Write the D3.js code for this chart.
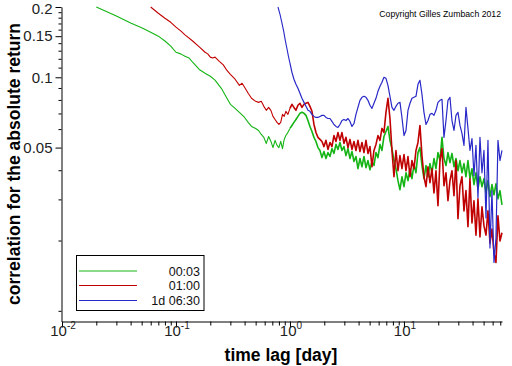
<!DOCTYPE html>
<html><head><meta charset="utf-8">
<script src="https://cdn.jsdelivr.net/npm/d3@7"></script>
<style>body{margin:0;background:#fff}svg{display:block}</style>
</head><body><svg id="c" width="512" height="366"></svg>
<script>
// ---------- data ----------
const seriesNames = ["00:03", "01:00", "1d 06:30"];
const seriesColors = ["#14b414", "#c00000", "#2828c8"];

const greenLagsHead = [0.02,0.03,0.04,0.05,0.06,0.07,0.08,0.09,0.1,0.11,0.12,0.13,0.14,0.16,0.18,0.2,0.22,0.25,0.28,0.3,0.33,0.36,0.4,0.43,0.46,0.5,0.53,0.56,0.59,0.62,0.65,0.68,0.71,0.74,0.77,0.8,0.83,0.86,0.89,0.92,0.96];
const greenValsHead = [0.200,0.183,0.171,0.163,0.156,0.150,0.143,0.136,0.128,0.126,0.123,0.121,0.116,0.108,0.104,0.101,0.0973,0.0897,0.0813,0.0766,0.0736,0.0708,0.0673,0.0641,0.0616,0.0604,0.0592,0.0569,0.0553,0.0521,0.0558,0.0532,0.0500,0.0537,0.0511,0.0500,0.0532,0.0495,0.0542,0.0563,0.0581];

const redLagsHead = [0.06,0.07,0.08,0.09,0.1,0.11,0.12,0.14,0.16,0.18,0.19,0.2,0.21,0.22,0.24,0.26,0.28,0.3,0.33,0.36,0.38,0.4,0.43,0.46,0.5,0.53,0.56,0.59,0.62,0.65,0.68,0.71,0.74,0.77,0.8,0.83,0.86,0.89,0.92,0.96];
const redValsHead = [0.200,0.188,0.179,0.172,0.164,0.158,0.152,0.143,0.135,0.128,0.126,0.122,0.121,0.122,0.117,0.113,0.107,0.103,0.0981,0.0924,0.0943,0.0906,0.0854,0.0813,0.0789,0.0781,0.0789,0.0751,0.0722,0.0743,0.0722,0.0680,0.0660,0.0641,0.0628,0.0641,0.0694,0.0680,0.0715,0.0694];

const blueLagsHead = [0.785,0.82,0.85,0.88,0.91,0.94,0.97];
const blueValsHead = [0.200,0.185,0.171,0.158,0.144,0.133,0.123];

// common lag grid (days) for lags >= 1 day
const lagsTail = [1,1.041,1.084,1.129,1.175,1.224,1.274,1.327,1.382,1.439,
1.498,1.560,1.624,1.691,1.761,1.833,1.909,1.988,2.070,2.155,
2.244,2.336,2.432,2.533,2.637,2.746,2.859,2.977,3.100,3.228,
3.361,3.499,3.644,3.794,3.950,4.113,4.283,4.460,4.644,4.835,
5.034,5.242,5.458,5.683,5.917,6.161,6.415,6.680,6.956,7.242,
7.54,7.851,8.175,8.512,8.863,9.228,9.609,10.01,10.42,10.85,
11.30,11.76,12.25,12.75,13.28,13.82,14.39,14.99,15.61,16.25,
16.92,17.62,18.34,19.10,19.89,20.71,21.56,22.45,23.38,24.34,
25.34,26.39,27.48,28.61,29.79,31.02,32.30,33.63,35.01,36.46,
37.96,39.53,41.16,42.85,44.62,46.46,48.38,50.37,52.45,54.61,
56.86,59.20,61.65,64.19,66.83,69.59,72.46];

const greenValsTail = [0.0604,0.0622,0.0641,0.0660,0.0680,0.0701,0.0708,0.0701,0.0687,0.0653,
0.0616,0.0586,0.0553,0.0531,0.0500,0.0486,0.0453,0.0481,0.0449,0.0476,
0.0458,0.0495,0.0472,0.0516,0.0491,0.0526,0.0486,0.0505,0.0462,0.0495,
0.0449,0.0481,0.0436,0.0458,0.0406,0.0449,0.0414,0.0458,0.0410,0.0440,
0.0402,0.0436,0.0419,0.0476,0.0453,0.0516,0.0486,0.0558,0.0586,0.0616,
0.0537,0.0495,0.0440,0.0406,0.0361,0.0330,0.0375,0.0340,0.0390,0.0361,
0.0406,0.0368,0.0423,0.0390,0.0476,0.0500,0.0419,0.0368,0.0419,0.0375,
0.0427,0.0390,0.0449,0.0406,0.0476,0.0440,0.0553,0.0449,0.0419,0.0476,
0.0431,0.0472,0.0414,0.0449,0.0398,0.0440,0.0390,0.0427,0.0375,0.0440,
0.0368,0.0406,0.0347,0.0390,0.0333,0.0375,0.0340,0.0368,0.0320,0.0361,
0.0308,0.0347,0.0314,0.0350,0.0302,0.0327,0.0284];

const redValsTail = [0.0736,0.0766,0.0743,0.0722,0.0759,0.0774,0.0743,0.0766,0.0774,0.0781,
0.0751,0.0715,0.0628,0.0580,0.0553,0.0542,0.0531,0.0505,0.0537,0.0491,
0.0526,0.0505,0.0563,0.0531,0.0580,0.0537,0.0580,0.0521,0.0553,0.0500,
0.0542,0.0491,0.0531,0.0486,0.0537,0.0481,0.0526,0.0476,0.0537,0.0472,
0.0505,0.0414,0.0486,0.0516,0.0563,0.0537,0.0604,0.0580,0.0708,0.0813,
0.0666,0.0486,0.0375,0.0486,0.0398,0.0462,0.0406,0.0467,0.0398,0.0458,
0.0375,0.0440,0.0406,0.0486,0.0526,0.0622,0.0462,0.0375,0.0340,0.0414,
0.0354,0.0406,0.0320,0.0398,0.0282,0.0440,0.0495,0.0343,0.0390,0.0296,
0.0361,0.0398,0.0311,0.0440,0.0248,0.0343,0.0375,0.0268,0.0327,0.0229,
0.0368,0.0238,0.0296,0.0211,0.0302,0.0207,0.0279,0.0231,0.0211,0.0268,
0.0195,0.0224,0.0177,0.0161,0.0255,0.0199,0.0216];

const blueValsTail = [0.115,0.105,0.0981,0.0933,0.0897,0.0854,0.0813,0.0781,0.0751,0.0722,
0.0715,0.0694,0.0680,0.0673,0.0673,0.0680,0.0687,0.0687,0.0673,0.0666,
0.0666,0.0647,0.0628,0.0616,0.0610,0.0628,0.0653,0.0660,0.0653,0.0666,
0.0647,0.0616,0.0634,0.0694,0.0743,0.0797,0.0821,0.0829,0.0821,0.0797,
0.0759,0.0736,0.0774,0.0813,0.0871,0.0915,0.0952,0.1000,0.0990,0.0924,
0.0829,0.0743,0.0722,0.0751,0.0774,0.0781,0.0673,0.0563,0.0592,0.0722,
0.0774,0.0813,0.0821,0.0829,0.0933,0.0971,0.0846,0.0708,0.0628,0.0653,
0.0694,0.0701,0.0687,0.0722,0.0781,0.0797,0.0805,0.0553,0.0653,0.0797,
0.0821,0.0653,0.0592,0.0687,0.0708,0.0622,0.0575,0.0511,0.0743,0.0604,
0.0486,0.0547,0.0379,0.0511,0.0305,0.0553,0.0390,0.0486,0.0250,0.0537,
0.0186,0.0327,0.0161,0.0205,0.0537,0.0440,0.0486];

const xDecades = [0.01, 0.1, 1, 10];
const xDecadeExp = ["-2", "-1", "0", "1"];
const xMinorTicks = [0.02,0.03,0.04,0.05,0.06,0.07,0.08,0.09,0.2,0.3,0.4,0.5,0.6,0.7,0.8,0.9,2,3,4,5,6,7,8,9,20,30,40,50,60,70];
const yMajorTicks = [0.2, 0.15, 0.1, 0.05];
const yMajorLabels = ["0.2", "0.15", "0.1", "0.05"];
const yMinorTicks = [0.01,0.02,0.03,0.04,0.06,0.07,0.08,0.09,0.11,0.12,0.13,0.14,0.16,0.17,0.18,0.19];

// ---------- chart ----------
const svg = d3.select("#c");
const font = "'Liberation Sans', Arial, sans-serif";
const x = d3.scaleLog().domain([0.01, 72.5]).range([62, 502]);
const y = d3.scaleLog().domain([0.009, 0.2]).range([321.5, 7]);

function pairs(lags, vals) { return lags.map((l, i) => [l, vals[i]]); }
const heads = [
  pairs(greenLagsHead, greenValsHead),
  pairs(redLagsHead, redValsHead),
  pairs(blueLagsHead, blueValsHead)
];
const tails = [
  pairs(lagsTail, greenValsTail),
  pairs(lagsTail, redValsTail),
  pairs(lagsTail, blueValsTail)
];

const line = d3.line().x(d => x(d[0])).y(d => y(d[1]));
heads.forEach((h, i) => {
  const g = svg.append("g");
  g.append("path").attr("d", line(h.concat([tails[i][0]]))).attr("fill", "none")
    .attr("stroke", seriesColors[i]).attr("stroke-width", 1.1)
    .attr("stroke-linejoin", "round");
  g.append("path").attr("d", line(tails[i])).attr("fill", "none")
    .attr("stroke", seriesColors[i]).attr("stroke-width", i === 2 ? 1.2 : 1.6)
    .attr("stroke-linejoin", "round");
});

// x axis
const gx = svg.append("g").attr("transform", "translate(0,321.5)");
gx.call(d3.axisBottom(x).tickValues(xMinorTicks).tickSize(4).tickSizeOuter(0).tickFormat(""));
const gx2 = svg.append("g").attr("transform", "translate(0,321.5)");
gx2.call(d3.axisBottom(x).tickValues(xDecades).tickSize(6).tickSizeOuter(0).tickFormat(""));
gx2.select(".domain").remove();
xDecades.forEach((d, i) => {
  const t = svg.append("text").attr("x", x(d) + 1).attr("y", 336)
    .attr("text-anchor", "middle").attr("font-family", font)
    .attr("font-size", 15).attr("fill", "#222");
  t.append("tspan").text("10");
  t.append("tspan").attr("dy", -7).attr("font-size", 10).text(xDecadeExp[i]);
});

// y axis
const gy = svg.append("g").attr("transform", "translate(61.5,0)");
gy.call(d3.axisLeft(y).tickValues(yMinorTicks).tickSize(3).tickSizeOuter(0).tickFormat(""));
const gy2 = svg.append("g").attr("transform", "translate(61.5,0)");
gy2.call(d3.axisLeft(y).tickValues(yMajorTicks).tickSize(6).tickPadding(3).tickSizeOuter(0)
  .tickFormat((d, i) => yMajorLabels[i]));
gy2.select(".domain").remove();
gy2.selectAll("text").attr("font-family", font).attr("font-size", 15).attr("fill", "#222");
gy2.selectAll("text").filter((d, i) => i === 0).attr("dy", "0.4em");
svg.selectAll(".domain, .tick line").attr("stroke", "#000");

// axis titles
svg.append("text").attr("x", 281).attr("y", 361).attr("text-anchor", "middle")
  .attr("font-family", font).attr("font-size", 17.5).attr("font-weight", "bold")
  .text("time lag  [day]");
svg.append("text").attr("transform", "translate(19.5,164) rotate(-90)")
  .attr("text-anchor", "middle").attr("font-family", font)
  .attr("font-size", 17.5).attr("font-weight", "bold")
  .text("correlation for the absolute return");

// copyright
svg.append("text").attr("x", 501).attr("y", 17).attr("text-anchor", "end")
  .attr("font-family", font).attr("font-size", 8.7).text("Copyright Gilles Zumbach 2012");

// legend
const lg = svg.append("g");
lg.append("rect").attr("x", 76.5).attr("y", 255.5).attr("width", 127.5).attr("height", 55)
  .attr("fill", "#fff").attr("stroke", "#000");
const legY = [271, 285.5, 300.5];
seriesNames.forEach((n, i) => {
  lg.append("line").attr("x1", 79).attr("x2", 137).attr("y1", legY[i]).attr("y2", legY[i])
    .attr("stroke", seriesColors[i]);
  lg.append("text").attr("x", 200).attr("y", legY[i] + 4.5).attr("text-anchor", "end")
    .attr("font-family", font).attr("font-size", 12.5).attr("fill", "#111").text(n);
});
</script>
</body></html>
